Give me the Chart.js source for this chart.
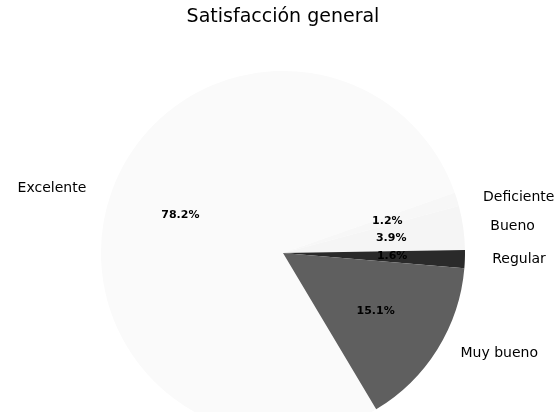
<!DOCTYPE html>
<html>
<head>
<meta charset="utf-8">
<script src="https://cdn.jsdelivr.net/npm/chart.js@4/dist/chart.umd.min.js"></script>
<style>
    body { margin: 0; background: #ffffff; }
    #wrap { width: 554px; height: 412px; }
</style>
</head>
<body>
<div id="wrap"><canvas id="pie-chart"></canvas></div>
<script>
// Data (percent of answers)
const categories = ['Excelente', 'Deficiente', 'Bueno', 'Regular', 'Muy bueno'];
const shares = [78.2, 1.2, 3.9, 1.6, 15.1];
const sliceColors = ['#fafafa', '#f7f7f7', '#f5f5f5', '#2a2a2a', '#5f5f5f'];

// Draws category names outside and percentages inside each slice
const sliceLabels = {
    id: 'sliceLabels',
    afterDatasetsDraw(chart) {
        const ctx = chart.ctx;
        const arcs = chart.getDatasetMeta(0).data;
        ctx.save();
        ctx.fillStyle = '#000';
        arcs.forEach((arc, i) => {
            const p = arc.getProps(['x', 'y', 'startAngle', 'endAngle', 'outerRadius']);
            const mid = (p.startAngle + p.endAngle) / 2;
            const cos = Math.cos(mid);
            const sin = Math.sin(mid);

            // name
            ctx.font = '14px "DejaVu Sans"';
            ctx.textBaseline = 'middle';
            ctx.textAlign = cos >= 0 ? 'left' : 'right';
            ctx.fillText(categories[i], p.x + cos * p.outerRadius * 1.15, p.y + sin * p.outerRadius * 1.04);

            // percentage
            ctx.font = 'bold 11px "DejaVu Sans"';
            ctx.textAlign = 'center';
            ctx.fillText(shares[i].toFixed(1) + '%', p.x + cos * p.outerRadius * 0.6, p.y + sin * p.outerRadius * 0.6);
        });
        ctx.restore();
    }
};

function renderPie() {
    const ctx = document.getElementById('pie-chart').getContext('2d');
    new Chart(ctx, {
        type: 'pie',
        data: {
            labels: categories,
            datasets: [{
                data: shares,
                backgroundColor: sliceColors,
                borderWidth: 0,
                radius: 182,
                rotation: 149.2,
                clip: false
            }]
        },
        options: {
            responsive: true,
            maintainAspectRatio: false,
            animation: false,
            layout: { padding: { left: 12, right: 0, top: 0, bottom: 0 } },
            plugins: {
                legend: { display: false },
                tooltip: { enabled: false },
                title: {
                    display: true,
                    text: 'Satisfacción general',
                    color: '#000',
                    font: { family: 'DejaVu Sans', size: 19, weight: 'normal' },
                    padding: { top: 6, bottom: 65 }
                }
            }
        },
        plugins: [sliceLabels]
    });
}

window.onload = renderPie;
</script>
</body>
</html>
